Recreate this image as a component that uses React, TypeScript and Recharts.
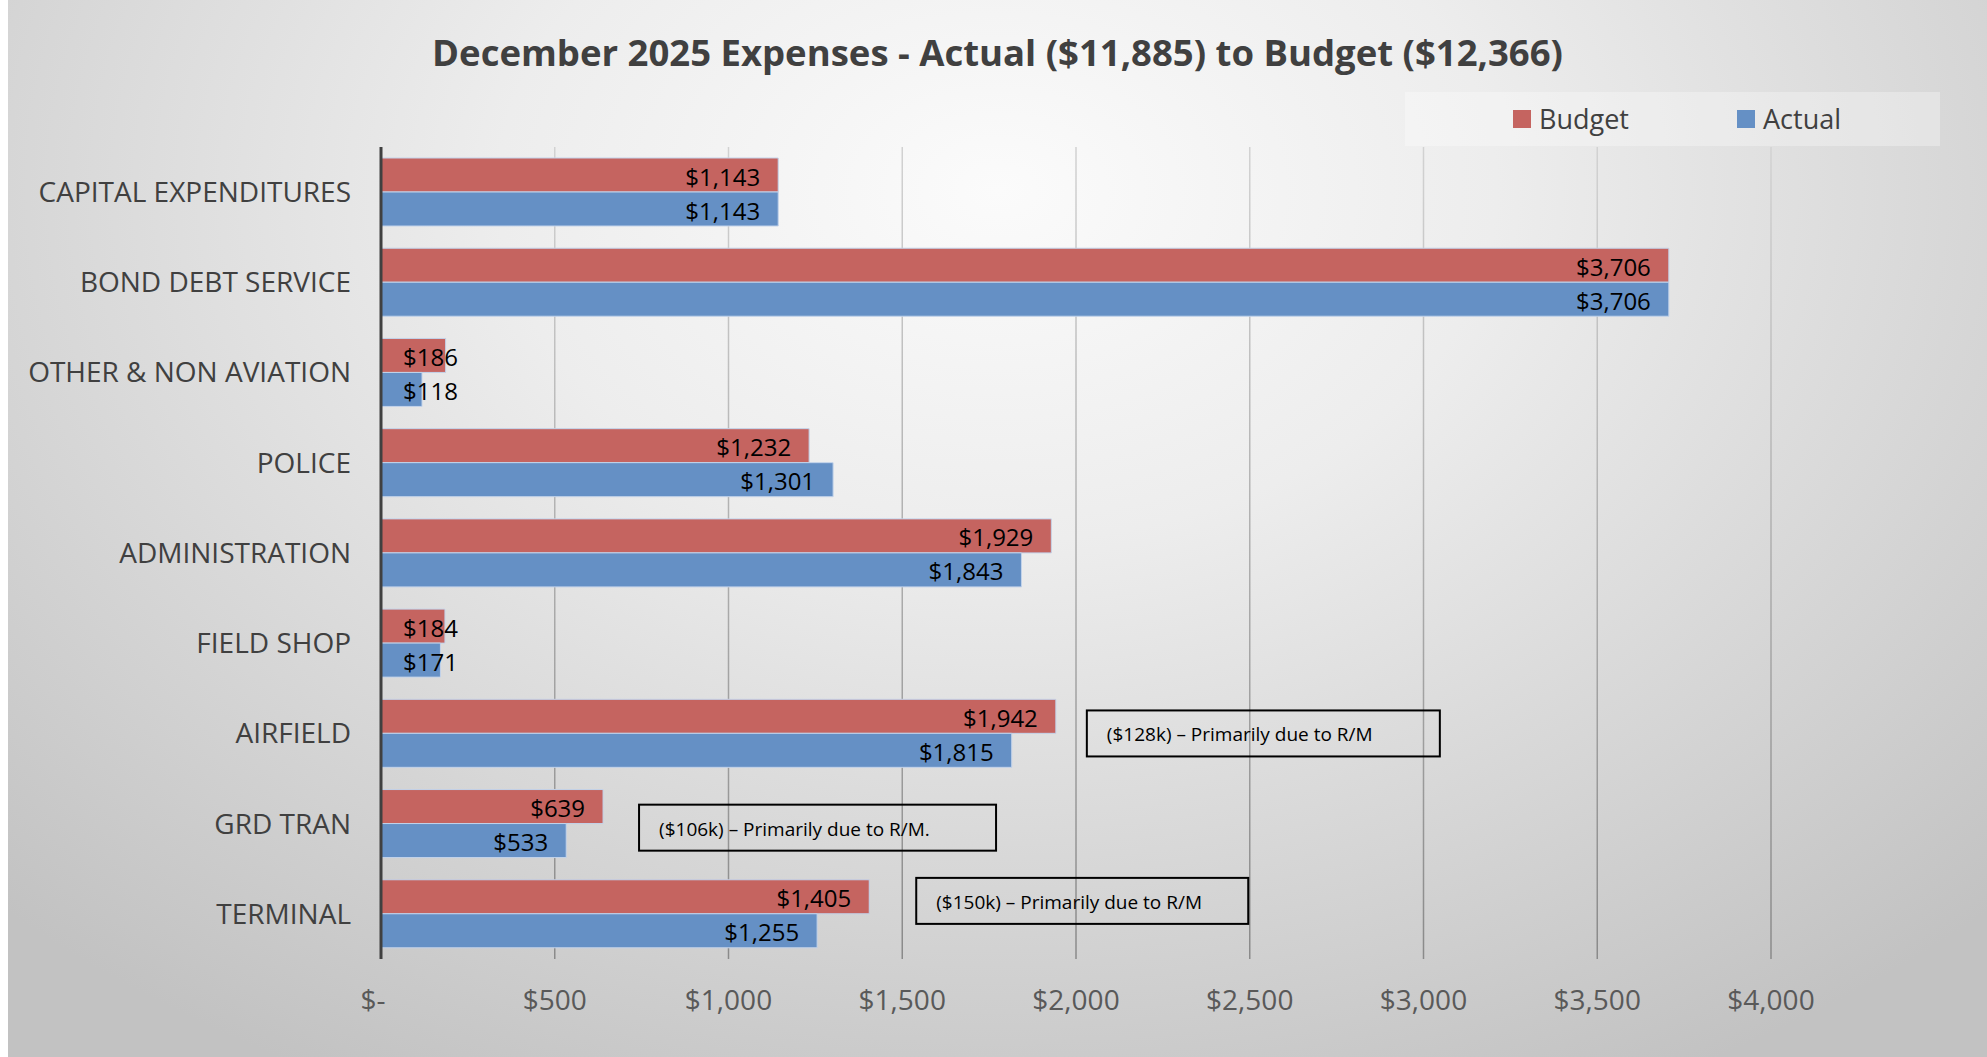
import React from 'react';
import { BarChart, Bar, XAxis, YAxis, CartesianGrid, Legend, LabelList, ReferenceDot } from 'recharts';

const categories = [
  'CAPITAL EXPENDITURES',
  'BOND DEBT SERVICE',
  'OTHER & NON AVIATION',
  'POLICE',
  'ADMINISTRATION',
  'FIELD SHOP',
  'AIRFIELD',
  'GRD TRAN',
  'TERMINAL',
];
const budgetValues = [1143, 3706, 186, 1232, 1929, 184, 1942, 639, 1405];
const actualValues = [1143, 3706, 118, 1301, 1843, 171, 1815, 533, 1255];
const xTicks = [0, 500, 1000, 1500, 2000, 2500, 3000, 3500, 4000];
const notes = [
  { category: 'AIRFIELD', text: '($128k) \u2013 Primarily due to R/M' },
  { category: 'GRD TRAN', text: '($106k) \u2013 Primarily due to R/M.' },
  { category: 'TERMINAL', text: '($150k) \u2013 Primarily due to R/M' },
];
const TITLE = 'December 2025 Expenses - Actual ($11,885) to Budget ($12,366)';

// styling / layout (not data)
const noteBoxes: Record<string, { dx: number; dy: number; w: number }> = {
  AIRFIELD: { dx: 31, dy: 0, w: 353 },
  'GRD TRAN': { dx: 36, dy: 4, w: 357 },
  TERMINAL: { dx: 47, dy: -13, w: 332 },
};
const BUDGET_COLOR = '#C56460';
const ACTUAL_COLOR = '#6590C5';
const FONT = '"Open Sans", "DejaVu Sans", sans-serif';

const data = categories.map((name, i) => ({ name, budget: budgetValues[i], actual: actualValues[i] }));

const fmtMoney = (v: number) => (v === 0 ? '$-' : '$' + Number(v).toLocaleString('en-US'));

const renderValueLabel = (props: any) => {
  const { x, y, width, height, value } = props;
  const fits = width > 110;
  const tx = fits ? x + width - 18 : x + 22;
  return (
    <text
      x={tx}
      y={y + height / 2 + 1}
      textAnchor={fits ? 'end' : 'start'}
      dominantBaseline="central"
      fontSize={24}
      fontFamily={FONT}
      fill="#000"
    >
      {fmtMoney(Number(value))}
    </text>
  );
};

const XTick = (props: any) => {
  const { x, y, payload } = props;
  const v = payload.value;
  return (
    <text x={x + (v === 0 ? -8 : 0)} y={y} dy="0.71em" textAnchor="middle" fontSize={28} fontFamily={FONT} fill="#595959">
      {fmtMoney(v)}
    </text>
  );
};

const renderLegend = () => (
  <div
    style={{
      width: 535,
      height: 54,
      position: 'relative',
      background: 'rgba(255,255,255,0.3)',
      fontFamily: FONT,
      fontSize: 27,
      color: '#404040',
    }}
  >
    <span style={{ position: 'absolute', left: 108, top: 18, width: 18, height: 18, background: BUDGET_COLOR }} />
    <span style={{ position: 'absolute', left: 134, top: 0, lineHeight: '54px' }}>Budget</span>
    <span style={{ position: 'absolute', left: 332, top: 18, width: 18, height: 18, background: ACTUAL_COLOR }} />
    <span style={{ position: 'absolute', left: 358, top: 0, lineHeight: '54px' }}>Actual</span>
  </div>
);

const makeNoteShape = (category: string, text: string) => (props: any) => {
  const { cx, cy } = props;
  const b = noteBoxes[category];
  const left = cx + b.dx;
  const h = 46;
  const top = cy + b.dy - h / 2;
  return (
    <g>
      <rect x={left} y={top} width={b.w} height={h} fill="none" stroke="#000" strokeWidth={2} />
      <text x={left + 20} y={top + h / 2 + 1} dominantBaseline="central" fontSize={19} fontFamily={FONT} fill="#000">
        {text}
      </text>
    </g>
  );
};

export default function App() {
  return (
    <div
      style={{
        position: 'absolute',
        left: 8,
        top: 0,
        width: 1979,
        height: 1057,
        background:
          'radial-gradient(ellipse 72% 95% at 50% 18%, #fbfbfb 0%, #ededed 35%, #d9d9d9 65%, #c2c2c2 100%)',
        overflow: 'hidden',
      }}
    >
      <div
        style={{
          position: 'absolute',
          left: 0,
          top: 32,
          width: 1979,
          textAlign: 'center',
          fontFamily: FONT,
          fontWeight: 700,
          fontSize: 36.5,
          lineHeight: '40px',
          color: '#404040',
        }}
      >
        {TITLE}
      </div>
      <BarChart
        width={1979}
        height={1057}
        data={data}
        layout="vertical"
        margin={{ top: 147, right: 216, bottom: 38, left: 0 }}
        barSize={34}
        barGap={0}
        style={{ position: 'absolute', left: 0, top: 0 }}
      >
        <defs>
          <linearGradient id="gridGrad" gradientUnits="userSpaceOnUse" x1="0" y1="147" x2="0" y2="959">
            <stop offset="0%" stopColor="#d2d2d2" />
            <stop offset="100%" stopColor="#8a8a8a" />
          </linearGradient>
        </defs>
        <CartesianGrid horizontal={false} vertical={true} stroke="url(#gridGrad)" strokeWidth={1.5} />
        <XAxis
          type="number"
          domain={[0, 4000]}
          ticks={xTicks}
          axisLine={false}
          tickLine={false}
          tickSize={0}
          tickMargin={31}
          height={60}
          tick={<XTick />}
          interval={0}
        />
        <YAxis
          type="category"
          dataKey="name"
          width={373}
          axisLine={{ stroke: '#404040', strokeWidth: 3 }}
          tickLine={false}
          tickSize={0}
          tickMargin={30}
          interval={0}
          tick={{ fill: '#404040', fontSize: 28, fontFamily: FONT }}
        />
        <Legend
          layout="horizontal"
          verticalAlign="middle"
          align="center"
          content={renderLegend}
          wrapperStyle={{ top: 92, left: 1397, width: 535, height: 54 }}
        />
        <Bar dataKey="budget" name="Budget" fill={BUDGET_COLOR} stroke="#c3d3ea" strokeWidth={1} isAnimationActive={false}>
          <LabelList dataKey="budget" content={renderValueLabel} />
        </Bar>
        <Bar dataKey="actual" name="Actual" fill={ACTUAL_COLOR} stroke="#c3d3ea" strokeWidth={1} isAnimationActive={false}>
          <LabelList dataKey="actual" content={renderValueLabel} />
        </Bar>
        {notes.map((n) => (
          <ReferenceDot
            key={n.category}
            x={budgetValues[categories.indexOf(n.category)]}
            y={n.category}
            r={0}
            ifOverflow="visible"
            shape={makeNoteShape(n.category, n.text)}
          />
        ))}
      </BarChart>
    </div>
  );
}
